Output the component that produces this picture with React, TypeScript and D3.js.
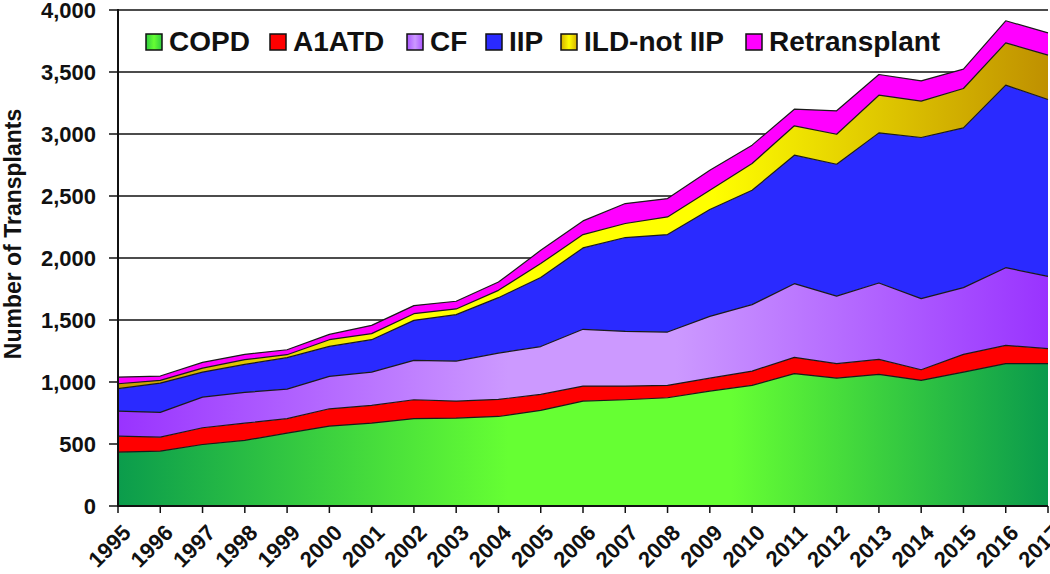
import React from "react";
import * as d3 from "d3";

const years = [1995, 1996, 1997, 1998, 1999, 2000, 2001, 2002, 2003, 2004, 2005, 2006, 2007, 2008, 2009, 2010, 2011, 2012, 2013, 2014, 2015, 2016, 2017];
const seriesNames = ["COPD", "A1ATD", "CF", "IIP", "ILD-not IIP", "Retransplant"];
const copd = [434, 442, 496, 529, 588, 644, 668, 704, 709, 722, 771, 846, 857, 873, 927, 973, 1067, 1032, 1061, 1013, 1080, 1148, 1148];
const a1atd = [129, 113, 135, 139, 116, 140, 143, 153, 137, 138, 129, 121, 110, 100, 104, 115, 132, 116, 121, 86, 143, 147, 121];
const cf = [202, 200, 247, 248, 239, 261, 269, 317, 323, 373, 386, 458, 441, 430, 498, 536, 594, 545, 616, 573, 538, 627, 583];
const iip = [181, 236, 202, 226, 253, 242, 261, 323, 374, 447, 557, 656, 757, 786, 862, 922, 1036, 1063, 1211, 1300, 1288, 1472, 1426];
const ild = [40, 22, 32, 38, 24, 54, 49, 54, 46, 59, 112, 108, 113, 142, 155, 216, 237, 242, 304, 293, 318, 341, 358];
const retx = [54, 35, 46, 43, 40, 43, 67, 65, 62, 67, 107, 110, 161, 148, 162, 148, 134, 189, 167, 164, 156, 178, 180];
const yTicks = [0, 500, 1000, 1500, 2000, 2500, 3000, 3500, 4000];

const W = 1050, H = 574;
const L = 118, R = 1048, T = 10, B = 506;
const FONT = "Arial, 'Liberation Sans', Helvetica, sans-serif";

export default function App() {
  const seriesValues = [copd, a1atd, cf, iip, ild, retx];
  const rows = years.map((yr, i) => {
    const o: any = { year: yr };
    seriesNames.forEach((n, k) => (o[n] = seriesValues[k][i]));
    return o;
  });
  const stack = d3.stack().keys(seriesNames);
  const layers = stack(rows);
  const x = d3.scaleLinear().domain([years[0], years[years.length - 1]]).range([L, R]);
  const y = d3.scaleLinear().domain([0, 4000]).range([B, T]);
  const area = d3.area<any>().x((d) => x(d.data.year)).y0((d) => y(d[0])).y1((d) => y(d[1]));
  const topLine = d3.line<any>().x((d) => x(d.data.year)).y((d) => y(d[1]));

  const fills = ["url(#gCOPD)", "#ff0000", "url(#gCF)", "#2a2aff", "url(#gILD)", "#ff00ff"];
  const legendFills = ["url(#lgCOPD)", "#ff0000", "url(#lgCF)", "#2a2aff", "url(#lgILD)", "#ff00ff"];
  const legendX = [146, 270, 407, 486, 561, 746];

  return (
    <svg width={W} height={H} style={{ position: "absolute", left: 0, top: 0, background: "#fff" }} fontFamily={FONT}>
      <defs>
        <linearGradient id="gCOPD" gradientUnits="userSpaceOnUse" x1={L} x2={R} y1={0} y2={0}>
          <stop offset="0" stopColor="#0b9c4c" />
          <stop offset="0.42" stopColor="#66ff33" />
          <stop offset="0.66" stopColor="#66ff33" />
          <stop offset="1" stopColor="#0a9a4c" />
        </linearGradient>
        <linearGradient id="gCF" gradientUnits="userSpaceOnUse" x1={L} x2={R} y1={0} y2={0}>
          <stop offset="0" stopColor="#9933ff" />
          <stop offset="0.42" stopColor="#cc99ff" />
          <stop offset="0.6" stopColor="#cc99ff" />
          <stop offset="1" stopColor="#9933ff" />
        </linearGradient>
        <linearGradient id="gILD" gradientUnits="userSpaceOnUse" x1={L} x2={R} y1={0} y2={0}>
          <stop offset="0" stopColor="#c89a00" />
          <stop offset="0.3" stopColor="#ffff00" />
          <stop offset="0.64" stopColor="#ffff00" />
          <stop offset="1" stopColor="#bf9000" />
        </linearGradient>
        <linearGradient id="lgCOPD" x1="0" x2="1" y1="0" y2="0">
          <stop offset="0" stopColor="#2ecc40" />
          <stop offset="0.5" stopColor="#66ff33" />
          <stop offset="1" stopColor="#2ecc40" />
        </linearGradient>
        <linearGradient id="lgCF" x1="0" x2="1" y1="0" y2="0">
          <stop offset="0" stopColor="#aa55ff" />
          <stop offset="0.5" stopColor="#cc99ff" />
          <stop offset="1" stopColor="#aa55ff" />
        </linearGradient>
        <linearGradient id="lgILD" x1="0" x2="1" y1="0" y2="0">
          <stop offset="0" stopColor="#d4b000" />
          <stop offset="0.5" stopColor="#ffff00" />
          <stop offset="1" stopColor="#d4b000" />
        </linearGradient>
      </defs>

      {/* gridlines */}
      {yTicks.filter((t) => t > 0).map((t) => (
        <line key={"g" + t} x1={L} x2={R} y1={y(t)} y2={y(t)} stroke="#111" strokeWidth={1.5} />
      ))}

      {/* areas */}
      {layers.map((layer, k) => (
        <path key={"a" + k} d={area(layer) || ""} fill={fills[k]} />
      ))}
      {layers.map((layer, k) => (
        <path key={"l" + k} d={topLine(layer) || ""} fill="none" stroke="#1a1a1a" strokeWidth={1.2} strokeLinejoin="round" />
      ))}

      {/* axes */}
      <line x1={L} x2={L} y1={T - 1} y2={B + 1} stroke="#111" strokeWidth={2} />
      <line x1={L} x2={R} y1={B} y2={B} stroke="#111" strokeWidth={2} />
      {yTicks.map((t) => (
        <g key={"yt" + t}>
          <line x1={L - 9} x2={L} y1={y(t)} y2={y(t)} stroke="#111" strokeWidth={1.5} />
          <text x={96} y={y(t)} dy="0.36em" textAnchor="end" fontSize={22} fontWeight="bold" fill="#111">
            {d3.format(",")(t)}
          </text>
        </g>
      ))}
      {years.map((yr) => (
        <g key={"xt" + yr}>
          <line x1={x(yr)} x2={x(yr)} y1={B} y2={B + 7} stroke="#111" strokeWidth={1.5} />
          <text
            transform={`translate(${x(yr) + 3},${B + 17}) rotate(-45)`}
            textAnchor="end"
            dy="0.72em"
            fontSize={22}
            fontWeight="bold"
            fill="#111"
          >
            {yr}
          </text>
        </g>
      ))}

      <text transform={`translate(21,234) rotate(-90)`} textAnchor="middle" fontSize={23} fontWeight="bold" fill="#111">
        Number of Transplants
      </text>

      {/* legend */}
      {seriesNames.map((n, k) => (
        <g key={"lg" + k}>
          <rect x={legendX[k]} y={34} width={16} height={16} fill={legendFills[k]} stroke="#111" strokeWidth={1.5} />
          <text x={legendX[k] + 23} y={51} fontSize={28} fontWeight="bold" fill="#111">
            {n}
          </text>
        </g>
      ))}
    </svg>
  );
}
